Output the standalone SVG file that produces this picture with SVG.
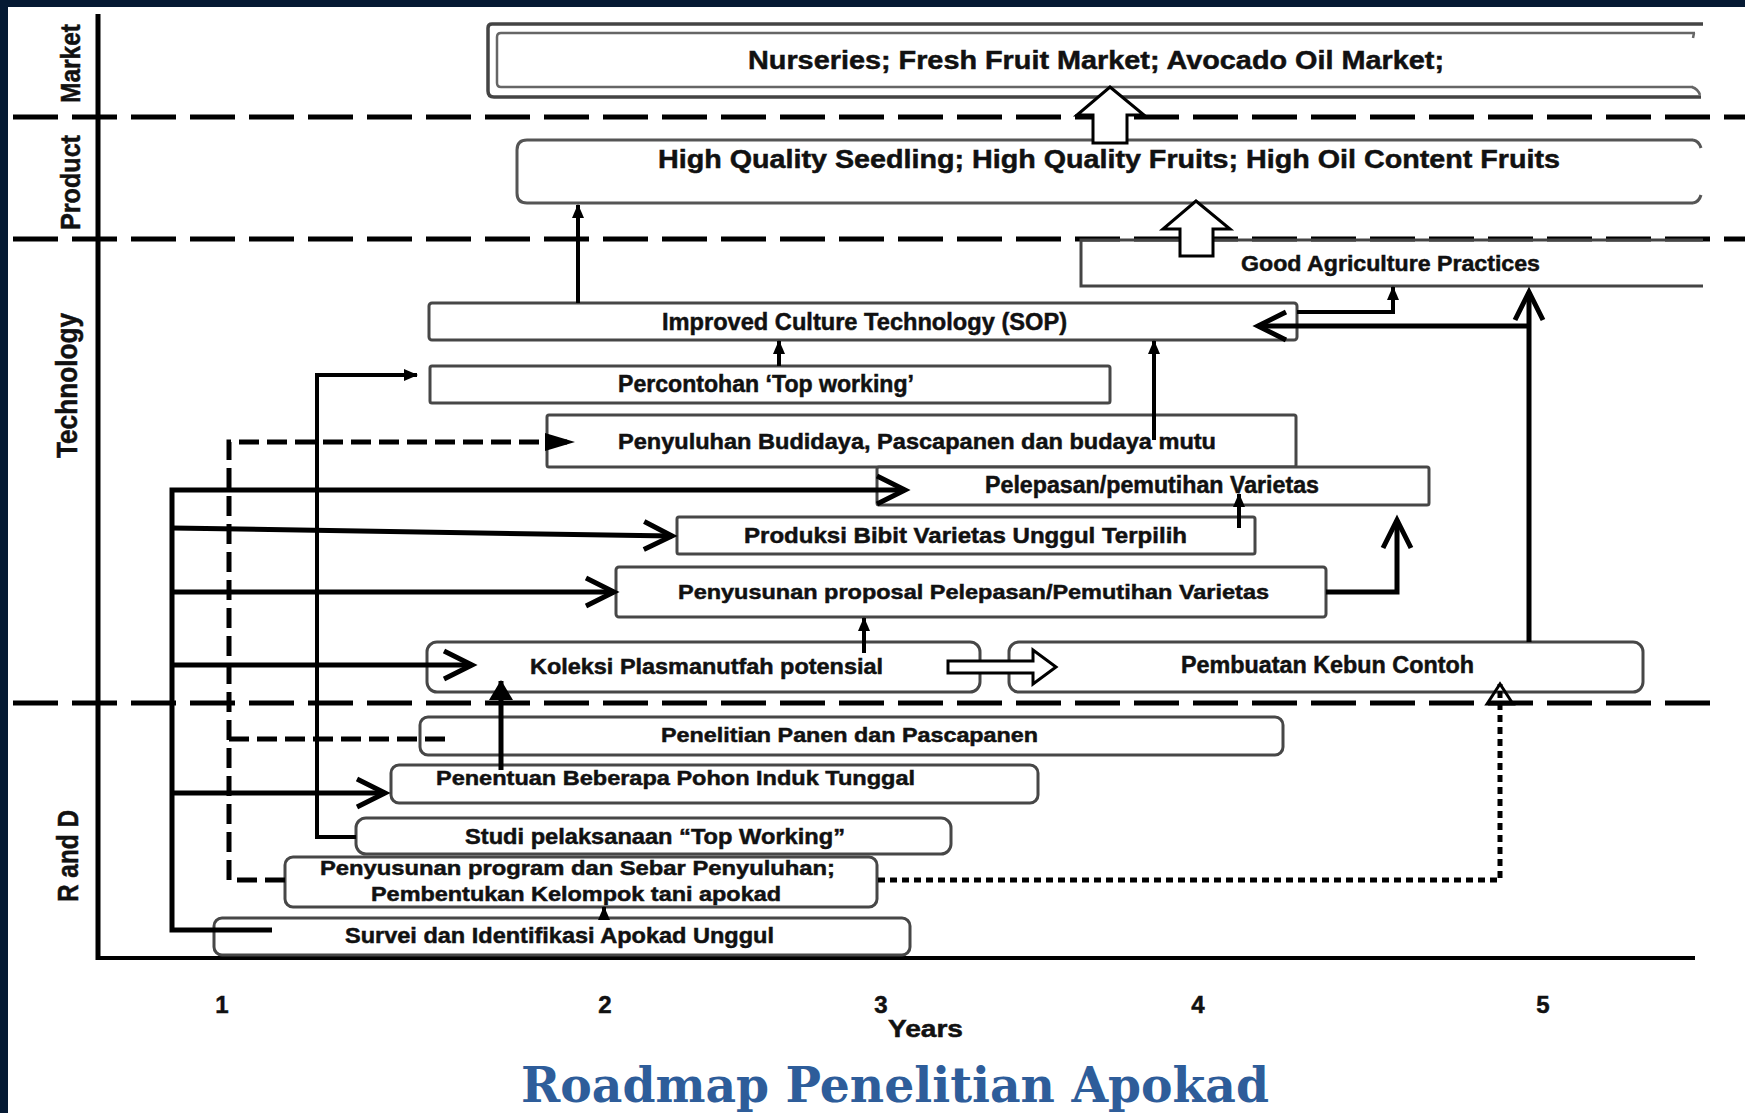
<svg xmlns="http://www.w3.org/2000/svg" width="1745" height="1113" viewBox="0 0 1745 1113">
<style>
.box{fill:#fff;stroke:#474747;stroke-width:3}
.t{font-family:"Liberation Sans",Arial,sans-serif;font-weight:bold;fill:#111;stroke:#111;stroke-width:0.5}
.sec{stroke:#000;stroke-width:5;stroke-dasharray:45 14;fill:none}
.c{stroke:#000;fill:none;stroke-width:4}
.th{stroke:#000;fill:none;stroke-width:5}
.dash{stroke:#000;fill:none;stroke-width:5;stroke-dasharray:20 8}
.dot{stroke:#000;fill:none;stroke-width:5;stroke-dasharray:7 5}
.blk{fill:#fff;stroke:#000;stroke-width:3;stroke-linejoin:miter}
</style>
<defs>
<marker id="chev" markerUnits="userSpaceOnUse" markerWidth="40" markerHeight="40" refX="30" refY="16" orient="auto" overflow="visible">
<path d="M2,2 L30,16 L2,30" fill="none" stroke="#000" stroke-width="5"/>
</marker>
<marker id="sm" markerUnits="userSpaceOnUse" markerWidth="16" markerHeight="16" refX="13" refY="6" orient="auto" overflow="visible">
<path d="M0,0 L14,6 L0,12 z" fill="#000"/>
</marker>
<marker id="big" markerUnits="userSpaceOnUse" markerWidth="24" markerHeight="26" refX="19" refY="12" orient="auto" overflow="visible">
<path d="M0,0 L20,12 L0,24 z" fill="#000"/>
</marker>
<marker id="dh" markerUnits="userSpaceOnUse" markerWidth="32" markerHeight="20" refX="29" refY="9" orient="auto" overflow="visible">
<path d="M0,0 L30,9 L0,18 z" fill="#000"/>
</marker>
<marker id="oh" markerUnits="userSpaceOnUse" markerWidth="26" markerHeight="30" refX="22" refY="14" orient="auto" overflow="visible">
<path d="M2,1 L22,14 L2,27 z" fill="none" stroke="#000" stroke-width="3"/>
</marker>
</defs>

<rect x="0" y="0" width="1745" height="1113" fill="#051a33"/>
<rect x="8" y="7" width="1737" height="1106" fill="#fff"/>

<g id="sections">
<line class="sec" x1="13" y1="117" x2="1745" y2="117"/>
<line class="sec" x1="13" y1="239" x2="1745" y2="239"/>
<line class="sec" x1="13" y1="703" x2="1714" y2="703"/>
<line x1="98" y1="14" x2="98" y2="960" stroke="#000" stroke-width="5"/>
<line x1="96" y1="958" x2="1695" y2="958" stroke="#000" stroke-width="4"/>
<text class="t" font-size="28" transform="translate(80,103) rotate(-90)" textLength="79" lengthAdjust="spacingAndGlyphs">Market</text>
<text class="t" font-size="28" transform="translate(80,230) rotate(-90)" textLength="95" lengthAdjust="spacingAndGlyphs">Product</text>
<text class="t" font-size="29" transform="translate(77,458) rotate(-90)" textLength="145" lengthAdjust="spacingAndGlyphs">Technology</text>
<text class="t" font-size="29" transform="translate(78,902) rotate(-90)" textLength="92" lengthAdjust="spacingAndGlyphs">R and D</text>
</g>

<g id="market">
<path d="M1703,24 H492 Q488,24 488,28 V91 Q488,97 494,97 H1701" fill="none" stroke="#444" stroke-width="3.5"/>
<path d="M1695,33 H501 Q497,33 497,37 V83 Q497,87 501,87 H1693" fill="none" stroke="#666" stroke-width="2.5"/>
<path d="M1694,33 l-1,5 M1692,87 q6,2 8,8" fill="none" stroke="#666" stroke-width="2.5"/>
<text class="t" font-size="26" x="748" y="69" textLength="696" lengthAdjust="spacingAndGlyphs">Nurseries; Fresh Fruit Market; Avocado Oil Market;</text>
</g>

<g id="product">
<path d="M1693,140 H527 Q517,140 517,150 V193 Q517,203 527,203 H1693" fill="none" stroke="#555" stroke-width="3"/>
<path d="M1693,140 q6,1 8,8 M1693,203 q6,-1 8,-8" fill="none" stroke="#555" stroke-width="3"/>
<text class="t" font-size="26" x="658" y="168" textLength="902" lengthAdjust="spacingAndGlyphs">High Quality Seedling; High Quality Fruits; High Oil Content Fruits</text>
</g>

<g id="gap">
<path d="M1703,240 H1081 V286 H1703" fill="none" stroke="#444" stroke-width="3"/>
<text class="t" font-size="22" x="1241" y="271" textLength="299" lengthAdjust="spacingAndGlyphs">Good Agriculture Practices</text>
</g>

<g id="ict">
<rect class="box" x="429" y="303" width="868" height="37" rx="3"/>
<text class="t" font-size="24" x="662" y="330" textLength="405" lengthAdjust="spacingAndGlyphs">Improved Culture Technology (SOP)</text>
</g>

<g id="percontohan">
<rect class="box" x="430" y="366" width="680" height="37" rx="2"/>
<text class="t" font-size="23" x="618" y="392" textLength="296" lengthAdjust="spacingAndGlyphs">Percontohan ‘Top working’</text>
</g>

<g id="penyuluhan">
<rect class="box" x="547" y="415" width="749" height="52" rx="2"/>
<text class="t" font-size="22" x="618" y="449" textLength="598" lengthAdjust="spacingAndGlyphs">Penyuluhan Budidaya, Pascapanen  dan budaya mutu</text>
</g>

<g id="pelepasan">
<rect class="box" x="877" y="467" width="552" height="38" rx="2"/>
<text class="t" font-size="23" x="985" y="493" textLength="334" lengthAdjust="spacingAndGlyphs">Pelepasan/pemutihan Varietas</text>
</g>

<g id="produksi">
<rect class="box" x="677" y="517" width="578" height="37" rx="2"/>
<text class="t" font-size="22" x="744" y="543" textLength="443" lengthAdjust="spacingAndGlyphs">Produksi Bibit Varietas  Unggul  Terpilih</text>
</g>

<g id="proposal">
<rect class="box" x="616" y="567" width="710" height="50" rx="3"/>
<text class="t" font-size="21" x="678" y="599" textLength="591" lengthAdjust="spacingAndGlyphs">Penyusunan  proposal  Pelepasan/Pemutihan  Varietas</text>
</g>

<g id="koleksi">
<rect class="box" x="427" y="642" width="553" height="50" rx="10"/>
<text class="t" font-size="22" x="530" y="674" textLength="353" lengthAdjust="spacingAndGlyphs">Koleksi Plasmanutfah  potensial</text>
</g>

<g id="pembuatan">
<rect class="box" x="1009" y="642" width="634" height="50" rx="10"/>
<text class="t" font-size="23" x="1181" y="673" textLength="293" lengthAdjust="spacingAndGlyphs">Pembuatan Kebun Contoh</text>
</g>

<g id="penelitian">
<rect class="box" x="420" y="717" width="863" height="38" rx="8"/>
<text class="t" font-size="21" x="661" y="742" textLength="377" lengthAdjust="spacingAndGlyphs">Penelitian Panen dan Pascapanen</text>
</g>

<g id="penentuan">
<rect class="box" x="391" y="765" width="647" height="38" rx="8"/>
<text class="t" font-size="21" x="436" y="785" textLength="479" lengthAdjust="spacingAndGlyphs">Penentuan Beberapa Pohon Induk Tunggal</text>
</g>

<g id="studi">
<rect class="box" x="356" y="818" width="595" height="36" rx="10"/>
<text class="t" font-size="22" x="465" y="844" textLength="380" lengthAdjust="spacingAndGlyphs">Studi pelaksanaan  “Top Working”</text>
</g>

<g id="penyusunan">
<rect class="box" x="285" y="857" width="592" height="50" rx="8"/>
<text class="t" font-size="21" x="320" y="875" textLength="515" lengthAdjust="spacingAndGlyphs">Penyusunan program dan Sebar Penyuluhan;</text>
<text class="t" font-size="21" x="371" y="901" textLength="410" lengthAdjust="spacingAndGlyphs">Pembentukan Kelompok tani apokad</text>
</g>

<g id="survei">
<rect class="box" x="214" y="918" width="696" height="37" rx="8"/>
<text class="t" font-size="22" x="345" y="943" textLength="429" lengthAdjust="spacingAndGlyphs">Survei dan Identifikasi Apokad Unggul</text>
</g>

<g id="connectors">
<path class="th" d="M272,930 H172 V490 H905" marker-end="url(#chev)"/>
<path class="th" d="M172,528 L672,536" marker-end="url(#chev)"/>
<path class="th" d="M172,592 H614" marker-end="url(#chev)"/>
<path class="th" d="M172,665 H472" marker-end="url(#chev)"/>
<path class="th" d="M172,793 H385" marker-end="url(#chev)"/>
<path class="c" d="M356,837 H317 V375 H417" marker-end="url(#sm)"/>
<path class="dash" d="M285,880 H229 V442 H574" marker-end="url(#dh)"/>
<path class="dash" d="M229,739 H446"/>
<path class="dot" d="M878,880 H1500 V684" marker-end="url(#oh)"/>
<path class="c" d="M578,303 V205" marker-end="url(#sm)"/>
<path class="c" d="M779,366 V341" marker-end="url(#sm)"/>
<path class="c" d="M1154,440 V341" marker-end="url(#sm)"/>
<path class="c" d="M1239,528 V494" marker-end="url(#sm)"/>
<path class="th" d="M1326,592 H1397 V520" marker-end="url(#chev)"/>
<path class="c" d="M864,653 V618" marker-end="url(#sm)"/>
<path class="th" d="M501,770 V681" marker-end="url(#big)"/>
<path class="c" d="M604,918 V907" stroke-width="3" marker-end="url(#sm)"/>
<path class="c" d="M1297,312 H1393 V287" marker-end="url(#sm)"/>
<path class="th" d="M1529,642 V292" stroke-width="6" marker-end="url(#chev)"/>
<path class="th" d="M1529,326 H1258" marker-end="url(#chev)"/>
<polygon class="blk" points="1110,87 1144,115 1127,115 1127,143 1093,143 1093,115 1077,115"/>
<polygon class="blk" points="1196,201 1230,229 1213,229 1213,256 1180,256 1180,229 1163,229"/>
<polygon class="blk" points="948,661 1033,661 1033,650 1056,667 1033,684 1033,673 948,673"/>
</g>

<g id="axis-labels">
<text class="t" font-size="24" x="222" y="1013" text-anchor="middle">1</text>
<text class="t" font-size="24" x="605" y="1013" text-anchor="middle">2</text>
<text class="t" font-size="24" x="881" y="1013" text-anchor="middle">3</text>
<text class="t" font-size="24" x="1198" y="1013" text-anchor="middle">4</text>
<text class="t" font-size="24" x="1543" y="1013" text-anchor="middle">5</text>
<text class="t" font-size="24" x="888" y="1037" textLength="75" lengthAdjust="spacingAndGlyphs">Years</text>
<text x="521" y="1102" font-family="'DejaVu Serif','Liberation Serif',serif" font-weight="bold" font-size="48" fill="#2e5d9a" textLength="748" lengthAdjust="spacingAndGlyphs">Roadmap Penelitian Apokad</text>
</g>
</svg>
